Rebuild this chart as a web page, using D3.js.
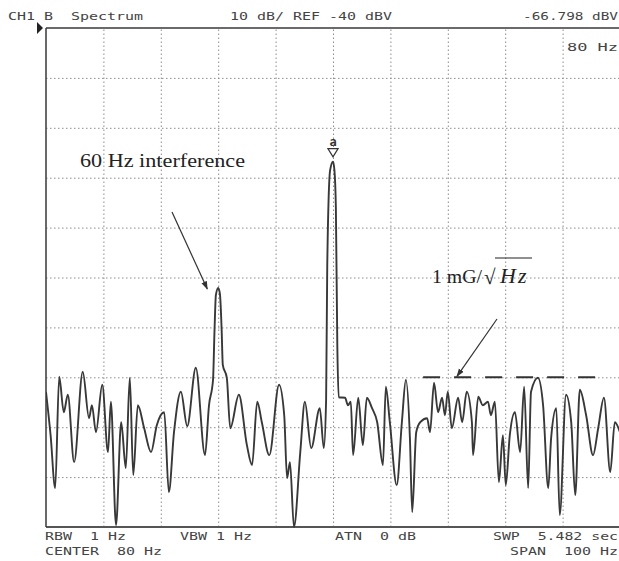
<!DOCTYPE html>
<html>
<head>
<meta charset="utf-8">
<script src="https://cdn.jsdelivr.net/npm/d3@7"></script>
<style>
  html, body { margin: 0; padding: 0; background: #ffffff; }
  svg { display: block; }
  text.mono { white-space: pre; }
</style>
</head>
<body>
<svg id="chart" width="619" height="561"></svg>
<script>
// ---------------- DATA ----------------
// Frequency axis: center 80 Hz, span 100 Hz
const freqDomain = [30, 130];
// Level axis: REF -40 dBV, 10 dB/div, 10 divisions
const levelDomain = [-40, -140];
const freqGridTicks = [40, 50, 60, 70, 80, 90, 100, 110, 120];
const levelGridTicks = [-50, -60, -70, -80, -90, -100, -110, -120, -130];

// Trace (Hz, dBV)
const traceFreq = [
  30.0, 30.8, 31.6, 32.3, 33.1, 33.8, 34.9, 36.4, 37.5, 38.0,
  38.7, 39.8, 40.8, 41.3, 42.2, 43.1, 43.9, 44.6, 45.2, 46.0,
  47.1, 48.3, 49.3, 50.6, 51.4, 52.3, 53.5, 54.6, 56.1, 57.7,
  58.4, 59.1, 59.36, 59.6, 60.0, 60.3, 60.6, 60.8, 61.5, 62.1,
  63.6, 65.0, 65.9, 66.8, 67.6, 68.9, 70.6, 71.5, 72.0, 72.5,
  73.2, 74.3, 75.1, 76.2, 77.7, 78.4, 78.8, 79.0, 79.5, 80.0,
  80.25, 80.5, 80.75, 81.0, 82.1, 82.6, 83.1, 83.5, 84.4, 85.2,
  85.9, 86.8, 87.7, 88.7, 89.2, 89.9, 91.1, 92.0, 92.7, 93.4,
  93.8, 94.5, 95.2, 96.4, 96.9, 97.6, 98.3, 99.0, 99.5, 100.0,
  100.7, 101.8, 102.5, 103.3, 104.2, 104.4, 105.3, 106.1, 107.0, 107.5,
  108.2, 108.9, 109.6, 110.1, 110.8, 111.7, 112.6, 113.3, 114.0, 114.5,
  115.7, 116.6, 117.5, 118.0, 118.9, 119.5, 120.6, 121.5, 122.2, 123.0,
  124.1, 125.3, 126.2, 127.2, 128.3, 129.1, 130.0
];
const traceLevel = [
  -112.9, -121.6, -132.2, -109.9, -117.0, -113.5, -127.0, -108.9, -118.2, -115.6,
  -121.0, -111.5, -125.0, -114.9, -139.6, -119.0, -128.2, -110.1, -129.6, -115.6,
  -120.2, -125.0, -119.6, -117.0, -133.0, -121.0, -112.9, -119.8, -108.1, -125.6,
  -115.6, -110.5, -100.5, -93.5, -92.1, -93.3, -100.5, -107.5, -110.1, -120.2,
  -113.5, -123.6, -127.6, -114.9, -119.0, -125.6, -111.5, -117.6, -130.2, -127.0,
  -140.0, -125.0, -114.9, -124.2, -116.2, -124.2, -114.5, -87.5, -68.5, -66.8,
  -68.5, -76.0, -103.5, -114.0, -114.1, -115.6, -114.9, -125.6, -114.1, -123.6,
  -114.1, -116.2, -119.0, -127.6, -111.9, -119.0, -131.6, -119.0, -110.5, -122.2,
  -137.0, -121.0, -119.0, -118.2, -121.0, -111.1, -117.0, -114.1, -117.6, -112.9,
  -120.2, -114.1, -119.0, -112.9, -119.0, -125.6, -113.9, -115.6, -114.9, -117.6,
  -114.9, -131.0, -121.6, -131.6, -121.6, -117.0, -125.0, -111.9, -132.2, -112.9,
  -110.1, -115.6, -132.2, -122.2, -116.2, -137.6, -113.5, -119.0, -133.6, -112.5,
  -117.6, -125.6, -120.2, -114.1, -129.0, -119.0, -121.0
];

// Marker and reference line
const markerFreq = 80;
const markerLevel = -66.798;
const floorLevel = -110;           // 1 mG/sqrt(Hz) line
const floorRange = [95.7, 127.0];  // Hz extent of the dash line

// Texts
const headerTexts = ["CH1 B  Spectrum", "10 dB/ REF -40 dBV", "-66.798 dBV", "80 Hz"];
const footerTexts = ["RBW  1 Hz", "VBW 1 Hz", "ATN  0 dB", "SWP  5.482 sec", "CENTER  80 Hz", "SPAN  100 Hz"];
const annotation60 = "60 Hz interference";
const annotationFloor = ["1 mG/", "\u221A", "Hz"];

// ---------------- DRAW ----------------
const svg = d3.select("#chart");
const L = 46, R = 620, T = 28, B = 527;
const x = d3.scaleLinear().domain(freqDomain).range([L, R]);
const y = d3.scaleLinear().domain(levelDomain).range([T, B]);

svg.append("rect").attr("width", 619).attr("height", 561).attr("fill", "#ffffff");

// grid via axes
const gx = svg.append("g").attr("transform", `translate(0,${B})`)
  .call(d3.axisBottom(x).tickValues(freqGridTicks).tickSize(-(B - T)).tickFormat(""));
const gy = svg.append("g").attr("transform", `translate(${L},0)`)
  .call(d3.axisLeft(y).tickValues(levelGridTicks).tickSize(-(R - L)).tickFormat(""));
[gx, gy].forEach(g => {
  g.select(".domain").remove();
  g.selectAll(".tick line").attr("stroke", "#8c8c8c").attr("stroke-width", 1)
    .attr("stroke-dasharray", "1.5,2.5");
});

// borders
svg.append("line").attr("x1", L).attr("x2", R).attr("y1", T).attr("y2", T)
  .attr("stroke", "#6a6a6a").attr("stroke-width", 2);
svg.append("line").attr("x1", L).attr("x2", R).attr("y1", B).attr("y2", B)
  .attr("stroke", "#555").attr("stroke-width", 2.2);
svg.append("line").attr("x1", L).attr("x2", L).attr("y1", T).attr("y2", B)
  .attr("stroke", "#444").attr("stroke-width", 1.6);

// ref marker arrow at left-top
svg.append("path").attr("d", `M${L - 9},${T - 6} L${L - 3},${T} L${L - 9},${T + 6} Z`).attr("fill", "#222");

// clip
svg.append("clipPath").attr("id", "plotclip").append("rect")
  .attr("x", L).attr("y", T).attr("width", R - L).attr("height", B - T + 1);

// floor dash line
svg.append("line")
  .attr("x1", x(floorRange[0])).attr("x2", x(floorRange[1]))
  .attr("y1", y(floorLevel)).attr("y2", y(floorLevel))
  .attr("stroke", "#333").attr("stroke-width", 2).attr("stroke-dasharray", "17,14");

// trace
const pts = traceFreq.map((f, i) => [f, traceLevel[i]]);
const line = d3.line().x(d => x(d[0])).y(d => y(d[1])).curve(d3.curveMonotoneX);
svg.append("path").datum(pts).attr("clip-path", "url(#plotclip)")
  .attr("d", line).attr("fill", "none").attr("stroke", "#383838")
  .attr("stroke-width", 1.9).attr("stroke-linejoin", "round");

// marker
const mx = x(markerFreq), my = y(markerLevel);
svg.append("path").attr("d", `M${mx - 5},${my - 13} L${mx + 5},${my - 13} L${mx},${my - 5} Z`)
  .attr("fill", "#fff").attr("stroke", "#333").attr("stroke-width", 1.3);
svg.append("text").attr("x", mx).attr("y", my - 16).attr("text-anchor", "middle")
  .attr("font-family", "DejaVu Sans Mono").attr("font-size", 12).attr("font-weight", "bold")
  .attr("fill", "#333").text("a");

// monospace instrument text
function mono(t, x0, yb, len) {
  svg.append("text").attr("class", "mono").attr("x", x0).attr("y", yb)
    .attr("xml:space", "preserve")
    .attr("font-family", "DejaVu Sans Mono").attr("font-size", 11)
    .attr("fill", "#444").attr("textLength", len).attr("lengthAdjust", "spacingAndGlyphs")
    .text(t);
}
mono(headerTexts[0], 8, 20, 135);
mono(headerTexts[1], 230, 20, 162);
mono(headerTexts[2], 523, 20, 95);
mono(headerTexts[3], 567, 51, 51);
mono(footerTexts[0], 45, 540, 81);
mono(footerTexts[1], 180, 540, 72);
mono(footerTexts[2], 335, 540, 81);
mono(footerTexts[3], 493, 540, 125);
mono(footerTexts[4], 45, 555, 117);
mono(footerTexts[5], 510, 555, 108);

// annotations
const serif = "Liberation Serif, Times New Roman, serif";
svg.append("text").attr("x", 80).attr("y", 167)
  .attr("font-family", serif).attr("font-size", 18)
  .attr("fill", "#222").attr("textLength", 165).attr("lengthAdjust", "spacingAndGlyphs")
  .text(annotation60);

const defs = svg.append("defs");
defs.append("marker").attr("id", "ah").attr("viewBox", "0 0 10 10").attr("refX", 9).attr("refY", 5)
  .attr("markerWidth", 7).attr("markerHeight", 7).attr("orient", "auto")
  .append("path").attr("d", "M0,1.5 L10,5 L0,8.5 Z").attr("fill", "#333");

svg.append("line").attr("x1", 172).attr("y1", 212).attr("x2", x(58.1)).attr("y2", y(-92.3))
  .attr("stroke", "#333").attr("stroke-width", 1.2).attr("marker-end", "url(#ah)");

svg.append("text").attr("x", 432).attr("y", 283)
  .attr("font-family", serif).attr("font-size", 18).attr("fill", "#222")
  .attr("textLength", 50).attr("lengthAdjust", "spacingAndGlyphs").text(annotationFloor[0]);
svg.append("text").attr("x", 484).attr("y", 284)
  .attr("font-family", serif).attr("font-size", 21).attr("fill", "#222")
  .text(annotationFloor[1]);
svg.append("text").attr("x", 500).attr("y", 283)
  .attr("font-family", serif).attr("font-size", 22).attr("font-style", "italic")
  .attr("letter-spacing", 2).attr("fill", "#222")
  .text(annotationFloor[2]);
// overline for sqrt
svg.append("line").attr("x1", 495).attr("x2", 532).attr("y1", 258).attr("y2", 258)
  .attr("stroke", "#222").attr("stroke-width", 1.1);

svg.append("line").attr("x1", 497).attr("y1", 319).attr("x2", x(101.6)).attr("y2", y(floorLevel) - 1)
  .attr("stroke", "#333").attr("stroke-width", 1.2).attr("marker-end", "url(#ah)");
</script>
</body>
</html>
